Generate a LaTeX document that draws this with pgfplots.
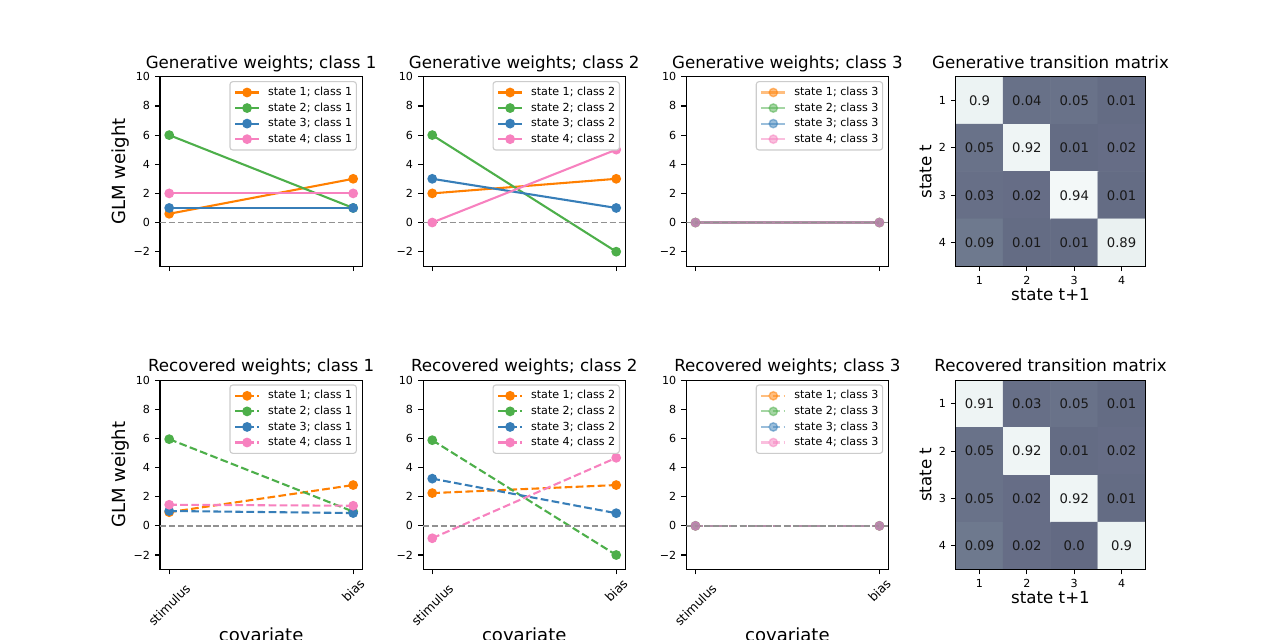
\documentclass[border=0pt]{standalone}
\usepackage{pgfplots}
\pgfplotsset{compat=1.18}
\usepackage{pgfplotstable}
\usepackage{fontspec}
\setmainfont{DejaVu Sans}
\definecolor{c1}{HTML}{FF7F00}
\definecolor{c2}{HTML}{4DAF4A}
\definecolor{c3}{HTML}{377EB8}
\definecolor{c4}{HTML}{F781BF}
\definecolor{lgframe}{RGB}{204,204,204}
\definecolor{zgray}{RGB}{145,145,145}

\pgfplotstableread{
x y v t
1 4 0.90 0.9
2 4 0.04 0.04
3 4 0.05 0.05
4 4 0.01 0.01
1 3 0.05 0.05
2 3 0.92 0.92
3 3 0.01 0.01
4 3 0.02 0.02
1 2 0.03 0.03
2 2 0.02 0.02
3 2 0.94 0.94
4 2 0.01 0.01
1 1 0.09 0.09
2 1 0.01 0.01
3 1 0.01 0.01
4 1 0.89 0.89
}\gentrans
\pgfplotstableread{
x y v t
1 4 0.91 0.91
2 4 0.03 0.03
3 4 0.05 0.05
4 4 0.01 0.01
1 3 0.05 0.05
2 3 0.92 0.92
3 3 0.01 0.01
4 3 0.02 0.02
1 2 0.05 0.05
2 2 0.02 0.02
3 2 0.92 0.92
4 2 0.01 0.01
1 1 0.09 0.09
2 1 0.02 0.02
3 1 0.00 0.0
4 1 0.90 0.9
}\rectrans

\pgfplotsset{
  mybase/.style={
    scale only axis,
    tick align=outside, tick pos=left,
    major tick length=3.5pt,
    every tick/.append style={black, line width=0.8pt},
    axis line style={line width=0.8pt},
    ticklabel style={font=\fontsize{8}{9}\selectfont},
    yticklabel style={inner sep=0pt, xshift=-3.5pt},
    xticklabel style={inner sep=0pt, yshift=-3.5pt},
    title style={at={(axis description cs:0.5,1)}, anchor=base, inner sep=0pt, font=\fontsize{12}{14}\selectfont},
  },
  mywstyle/.style={
    mybase,
    width=145.7pt, height=136.4pt,
    xmin=-0.05, xmax=1.05, ymin=-3, ymax=10,
    xtick={0,1}, xticklabels={},
    ytick={-2,0,2,4,6,8,10}, yticklabels={−2,0,2,4,6,8,10},
    legend cell align=left,
    legend style={at={(axis description cs:1,1)}, anchor=north east, xshift=-3.9pt, yshift=-3.1pt,
      font=\fontsize{8}{9}\selectfont, draw=lgframe, line width=0.8pt, rounded corners=2pt, fill=white,
      inner xsep=3pt, inner ysep=4pt, row sep=3.6pt, column sep=5.8pt,
      nodes={inner sep=0pt, text height=6pt, text depth=1.6pt}},
    ylabel style={at={(axis description cs:-0.153,0.5)}, anchor=south, inner sep=0pt, font=\fontsize{13}{15}\selectfont},
    xlabel style={at={(axis description cs:0.5,0)}, anchor=north, yshift=-42pt, inner sep=0pt, font=\fontsize{13}{15}\selectfont},
  },
  mybotx/.style={
    xtick={0}, xticklabels={stimulus},
    xticklabel style={yshift=-18.5pt, rotate=45, anchor=center, font=\fontsize{9}{10}\selectfont},
    extra x ticks={1}, extra x tick labels={bias},
    extra x tick style={every x tick label/.style={inner sep=0pt, yshift=-11.5pt, rotate=45, anchor=center, font=\fontsize{9}{10}\selectfont}},
    xlabel={covariate}},
  mygen/.style={color=#1, line width=1.5pt, mark=*, mark size=3pt, mark options={solid, line width=1pt}},
  myrec/.style={color=#1, line width=1.5pt, dash pattern=on 5.55pt off 2.4pt, mark=*, mark size=3pt, mark options={solid, line width=1pt}},
  myzero/.style={zgray, line width=1.3pt, dash pattern=on 4.4pt off 2pt, forget plot},
  myhstyle/.style={
    mybase,
    width=136.4pt, height=136.4pt,
    xmin=0.5, xmax=4.5, ymin=0.5, ymax=4.5,
    xtick={1,2,3,4}, ytick={1,2,3,4},
    xticklabels={1,2,3,4}, yticklabels={4,3,2,1},
    colormap={bone}{rgb(0pt)=(0,0,0); rgb(365.079pt)=(0.319444,0.319444,0.444444); rgb(746.032pt)=(0.652778,0.777778,0.777778); rgb(1000pt)=(1,1,1)},
    point meta min=-0.8, point meta max=1,
    axis on top,
    xlabel={state t+1}, ylabel={state t},
    ylabel style={at={(axis description cs:-0.127,0.5)}, anchor=south, inner sep=0pt, font=\fontsize{12}{14}\selectfont},
    xlabel style={at={(axis description cs:0.5,0)}, anchor=north, yshift=-15.8pt, inner sep=0pt, font=\fontsize{12}{14}\selectfont},
  },
  mycells/.style={matrix plot*, mesh/cols=4, point meta=explicit},
  mylabs/.style={only marks, mark=none, point meta=explicit symbolic,
    nodes near coords, nodes near coords align=center,
    every node near coord/.append style={font=\fontsize{9.5}{11}\selectfont, text=black!90, anchor=center, inner sep=0pt}},
}

\begin{document}
\begin{tikzpicture}
\path[use as bounding box] (0,0) rectangle (921.6pt,460.8pt);

% ---------- top row ----------
\begin{axis}[mywstyle, at={(115.2pt,269.1pt)}, anchor=south west,
  title={Generative weights; class 1}, ylabel={GLM weight}]
\addplot[mygen=c1] coordinates {(0,0.6) (1,3)};
\addlegendentry{state 1; class 1}
\addplot[mygen=c2] coordinates {(0,6) (1,1)};
\addlegendentry{state 2; class 1}
\addplot[mygen=c3] coordinates {(0,1) (1,1)};
\addlegendentry{state 3; class 1}
\addplot[mygen=c4] coordinates {(0,2) (1,2)};
\addlegendentry{state 4; class 1}
\addplot[myzero] coordinates {(-0.05,0) (1.05,0)};
\end{axis}

\begin{axis}[mywstyle, at={(304.6pt,269.1pt)}, anchor=south west,
  title={Generative weights; class 2}]
\addplot[mygen=c1] coordinates {(0,2) (1,3)};
\addlegendentry{state 1; class 2}
\addplot[mygen=c2] coordinates {(0,6) (1,-2)};
\addlegendentry{state 2; class 2}
\addplot[mygen=c3] coordinates {(0,3) (1,1)};
\addlegendentry{state 3; class 2}
\addplot[mygen=c4] coordinates {(0,0) (1,5)};
\addlegendentry{state 4; class 2}
\addplot[myzero] coordinates {(-0.05,0) (1.05,0)};
\end{axis}

\begin{axis}[mywstyle, at={(494.1pt,269.1pt)}, anchor=south west,
  title={Generative weights; class 3}]
\addplot[mygen=c1, opacity=0.5] coordinates {(0,0) (1,0)};
\addlegendentry{state 1; class 3}
\addplot[mygen=c2, opacity=0.5] coordinates {(0,0) (1,0)};
\addlegendentry{state 2; class 3}
\addplot[mygen=c3, opacity=0.5] coordinates {(0,0) (1,0)};
\addlegendentry{state 3; class 3}
\addplot[mygen=c4, opacity=0.5] coordinates {(0,0) (1,0)};
\addlegendentry{state 4; class 3}
\addplot[myzero] coordinates {(-0.05,0) (1.05,0)};
\end{axis}

\begin{axis}[myhstyle, at={(688.2pt,269.1pt)}, anchor=south west,
  title={Generative transition matrix}]
\addplot[mycells] table[x=x, y=y, meta=v] {\gentrans};
\addplot[mylabs] table[x=x, y=y, meta=t] {\gentrans};
\end{axis}

% ---------- bottom row ----------
\begin{axis}[mywstyle, mybotx, at={(115.2pt,50.7pt)}, anchor=south west,
  title={Recovered weights; class 1}, ylabel={GLM weight}]
\addplot[myrec=c1] coordinates {(0,0.94) (1,2.8)};
\addlegendentry{state 1; class 1}
\addplot[myrec=c2] coordinates {(0,5.95) (1,0.98)};
\addlegendentry{state 2; class 1}
\addplot[myrec=c3] coordinates {(0,1.02) (1,0.88)};
\addlegendentry{state 3; class 1}
\addplot[myrec=c4] coordinates {(0,1.45) (1,1.38)};
\addlegendentry{state 4; class 1}
\addplot[myzero] coordinates {(-0.05,0) (1.05,0)};
\end{axis}

\begin{axis}[mywstyle, mybotx, at={(304.6pt,50.7pt)}, anchor=south west,
  title={Recovered weights; class 2}]
\addplot[myrec=c1] coordinates {(0,2.25) (1,2.8)};
\addlegendentry{state 1; class 2}
\addplot[myrec=c2] coordinates {(0,5.88) (1,-2.0)};
\addlegendentry{state 2; class 2}
\addplot[myrec=c3] coordinates {(0,3.24) (1,0.87)};
\addlegendentry{state 3; class 2}
\addplot[myrec=c4] coordinates {(0,-0.85) (1,4.67)};
\addlegendentry{state 4; class 2}
\addplot[myzero] coordinates {(-0.05,0) (1.05,0)};
\end{axis}

\begin{axis}[mywstyle, mybotx, at={(494.1pt,50.7pt)}, anchor=south west,
  title={Recovered weights; class 3}]
\addplot[myrec=c1, opacity=0.5] coordinates {(0,0) (1,0)};
\addlegendentry{state 1; class 3}
\addplot[myrec=c2, opacity=0.5] coordinates {(0,0) (1,0)};
\addlegendentry{state 2; class 3}
\addplot[myrec=c3, opacity=0.5] coordinates {(0,0) (1,0)};
\addlegendentry{state 3; class 3}
\addplot[myrec=c4, opacity=0.5] coordinates {(0,0) (1,0)};
\addlegendentry{state 4; class 3}
\addplot[myzero] coordinates {(-0.05,0) (1.05,0)};
\end{axis}

\begin{axis}[myhstyle, at={(688.2pt,50.7pt)}, anchor=south west,
  title={Recovered transition matrix}]
\addplot[mycells] table[x=x, y=y, meta=v] {\rectrans};
\addplot[mylabs] table[x=x, y=y, meta=t] {\rectrans};
\end{axis}
\end{tikzpicture}
\end{document}
